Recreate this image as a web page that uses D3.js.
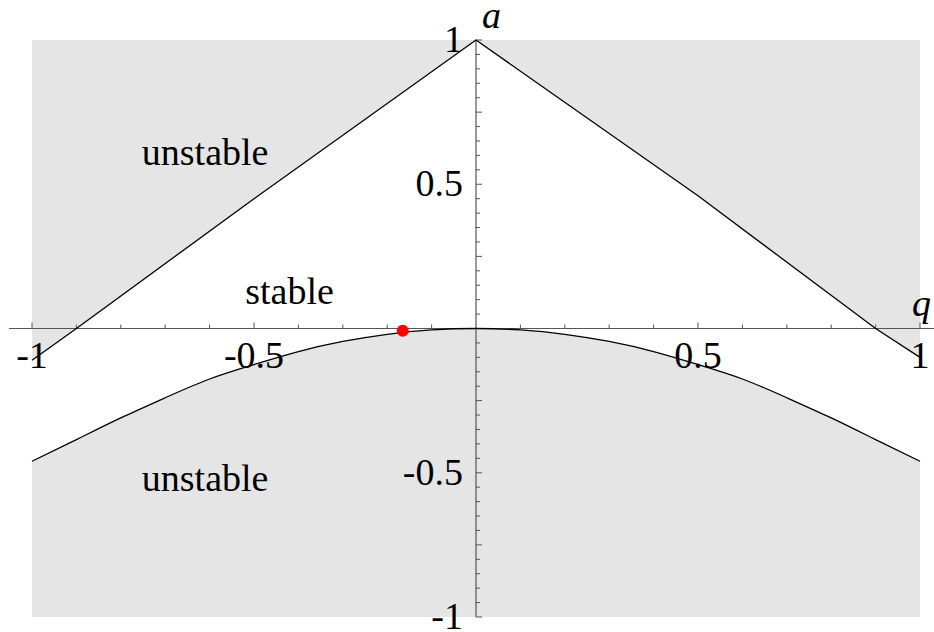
<!DOCTYPE html>
<html>
<head>
<meta charset="utf-8">
<script src="https://cdn.jsdelivr.net/npm/d3@7"></script>
<style>
  body { margin: 0; background: #fff; }
  text { font-family: "Liberation Serif", "DejaVu Serif", serif; fill: #000; }
</style>
</head>
<body>
<div id="chart"></div>
<script>
// upper boundary (two nearly straight branches meeting at a = 1)
const qUpper = [-1, -0.9, -0.5, 0, 0.5, 0.9, 1]
const aUpper = [-0.11, 0, 0.45, 1, 0.46, 0, -0.1]

// lower boundary
const qLower = [-1, -0.9, -0.8, -0.7, -0.6, -0.5, -0.4, -0.3, -0.2, -0.1, 0,
                0.1, 0.2, 0.3, 0.4, 0.5, 0.6, 0.7, 0.8, 0.9, 1]
const aLower = [-0.46, -0.385, -0.31, -0.24, -0.175, -0.125, -0.08, -0.045, -0.02, -0.005, 0,
                -0.005, -0.02, -0.045, -0.08, -0.125, -0.175, -0.24, -0.31, -0.385, -0.46]

const point = { q: -0.165, a: -0.008 }

const xTickLabels = [-1, -0.5, 0.5, 1]
const yTickLabels = [-1, -0.5, 0.5, 1]

const regionLabels = [
  { text: 'unstable', q: -0.61, a: 0.6 },
  { text: 'stable', q: -0.42, a: 0.12 },
  { text: 'unstable', q: -0.61, a: -0.53 }
]

const width = 934, height = 632

const svg = d3.select('#chart').append('svg')
  .attr('width', width)
  .attr('height', height)

const x = d3.scaleLinear().domain([-1, 1]).range([32, 920])
const y = d3.scaleLinear().domain([-1, 1]).range([617, 40])

// grey background = unstable
svg.append('rect')
  .attr('x', x(-1))
  .attr('y', y(1))
  .attr('width', x(1) - x(-1))
  .attr('height', y(-1) - y(1))
  .attr('fill', '#e5e5e5')

const upperPts = qUpper.map((q, i) => [q, aUpper[i]])
const lowerPts = qLower.map((q, i) => [q, aLower[i]])

const upperLine = d3.line().x(d => x(d[0])).y(d => y(d[1]))
const lowerLine = d3.line().x(d => x(d[0])).y(d => y(d[1])).curve(d3.curveNatural)

// white stable region between the boundaries
const upperPath = upperLine(upperPts)
const lowerRev = lowerLine(lowerPts.slice().reverse())
svg.append('path')
  .attr('d', upperPath + 'L' + lowerRev.slice(1) + 'Z')
  .attr('fill', '#fff')

// axes
const axisColor = '#555'
svg.append('line')
  .attr('x1', 9).attr('x2', width)
  .attr('y1', y(0)).attr('y2', y(0))
  .attr('stroke', axisColor).attr('stroke-width', 1.2)
svg.append('line')
  .attr('x1', x(0)).attr('x2', x(0))
  .attr('y1', y(1)).attr('y2', y(-1))
  .attr('stroke', axisColor).attr('stroke-width', 1.2)

const xTicks = d3.range(-10, 11).filter(i => i !== 0).map(i => i / 10)
svg.selectAll('.xtick')
  .data(xTicks)
  .enter()
  .append('line')
  .attr('class', 'xtick')
  .attr('x1', d => x(d)).attr('x2', d => x(d))
  .attr('y1', y(0))
  .attr('y2', d => y(0) - (Math.abs(d * 2 - Math.round(d * 2)) < 1e-6 ? 6 : 4))
  .attr('stroke', axisColor).attr('stroke-width', 1)

const yTicks = d3.range(-20, 21).filter(i => i !== 0).map(i => i / 20)
svg.selectAll('.ytick')
  .data(yTicks)
  .enter()
  .append('line')
  .attr('class', 'ytick')
  .attr('y1', d => y(d)).attr('y2', d => y(d))
  .attr('x1', x(0))
  .attr('x2', d => x(0) + (Math.abs(d * 4 - Math.round(d * 4)) < 1e-6 ? 6 : 4))
  .attr('stroke', axisColor).attr('stroke-width', 1)

// boundary curves
svg.append('path')
  .attr('d', upperPath)
  .attr('fill', 'none').attr('stroke', '#000').attr('stroke-width', 1.3)
svg.append('path')
  .attr('d', lowerLine(lowerPts))
  .attr('fill', 'none').attr('stroke', '#000').attr('stroke-width', 1.3)

// tick labels
svg.selectAll('.xlabel')
  .data(xTickLabels)
  .enter()
  .append('text')
  .attr('class', 'xlabel')
  .attr('x', d => x(d))
  .attr('y', y(0) + 39)
  .attr('text-anchor', 'middle')
  .style('font-size', '38px')
  .text(d => d)

svg.selectAll('.ylabel')
  .data(yTickLabels)
  .enter()
  .append('text')
  .attr('class', 'ylabel')
  .attr('x', x(0) - 13)
  .attr('y', d => y(d) + 12)
  .attr('text-anchor', 'end')
  .style('font-size', '38px')
  .text(d => d)

// axis names
svg.append('text')
  .attr('x', 482).attr('y', 28)
  .style('font-size', '38px').style('font-style', 'italic')
  .text('a')
svg.append('text')
  .attr('x', 912).attr('y', 316)
  .style('font-size', '38px').style('font-style', 'italic')
  .text('q')

// region names
svg.selectAll('.region')
  .data(regionLabels)
  .enter()
  .append('text')
  .attr('class', 'region')
  .attr('x', d => x(d.q))
  .attr('y', d => y(d.a) + 10)
  .attr('text-anchor', 'middle')
  .style('font-size', '38px')
  .text(d => d.text)

// marked point
svg.append('circle')
  .attr('cx', x(point.q))
  .attr('cy', y(point.a))
  .attr('r', 6)
  .attr('fill', '#f00')
</script>
</body>
</html>
